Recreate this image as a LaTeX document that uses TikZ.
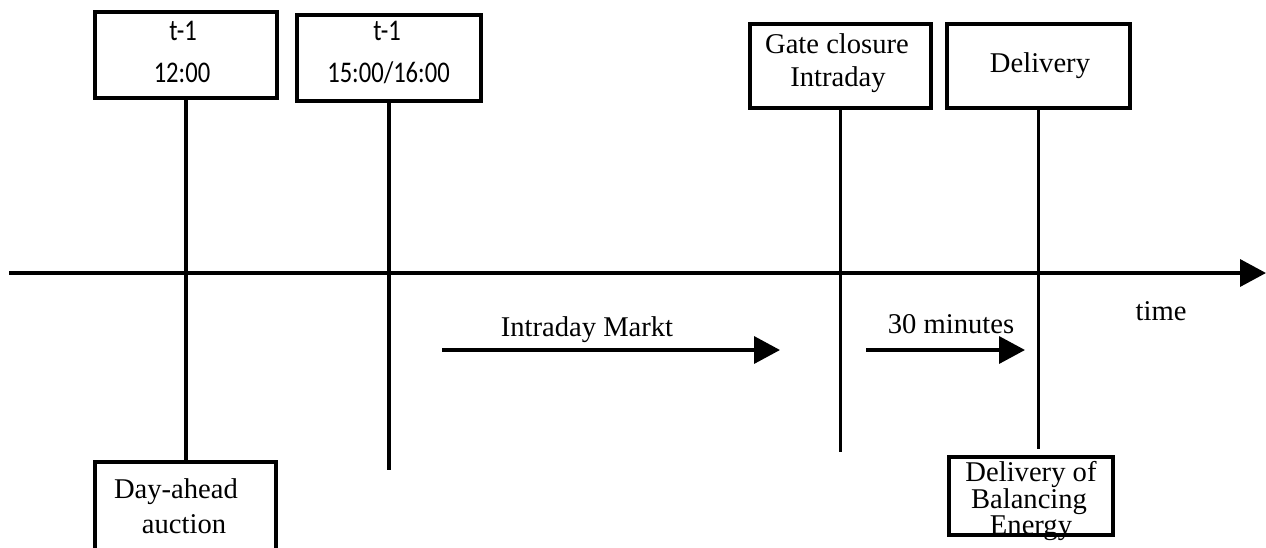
\documentclass[tikz,border=0pt]{standalone}
\usepackage{fontspec}
\setmainfont{Liberation Serif}
\newfontfamily\nsans[FakeStretch=0.82]{Carlito}
\usetikzlibrary{arrows.meta}
\begin{document}
\begin{tikzpicture}[x=1pt,y=-1pt,
  box/.style={draw=black, line width=3.6pt, inner sep=0pt, fill=none},
  conn/.style={draw=black, line width=3.6pt},
  arr/.style={draw=black, line width=3.6pt, -{Triangle[length=26pt,width=27pt]}},
  txt/.style={anchor=base, inner sep=0pt, font=\fontsize{28.6}{34}\selectfont},
  stxt/.style={anchor=base, inner sep=0pt, font=\nsans\fontsize{30}{36}\selectfont}]
\clip (0,0) rectangle (1266,547);
\fill[white] (0,0) rectangle (1266,547);
% top boxes
\node[box, minimum width=182pt, minimum height=86pt] (b1) at (186,55) {};
\node[box, minimum width=184pt, minimum height=86pt] (b2) at (389,58) {};
\node[box, minimum width=181pt, minimum height=84pt] (b3) at (840.5,66) {};
\node[box, minimum width=183pt, minimum height=84pt] (b4) at (1038.5,66) {};
% bottom boxes
\node[box, minimum width=181pt, minimum height=100pt] (bb1) at (185.5,512) {};
\node[box, minimum width=164pt, minimum height=78pt] (bb2) at (1031,496) {};
% texts
\node[stxt] (t1a) at (183,40) {t-1};
\node[stxt] (t1b) at (182,82) {12:00};
\node[stxt] (t2a) at (387,40) {t-1};
\node[stxt] (t2b) at (388.5,82) {15:00/16:00};
\node[txt] (t3a) at (837,53) {Gate closure};
\node[txt] (t3b) at (838,86) {Intraday};
\node[txt] (t4) at (1040,72) {Delivery};
\node[txt] (tb1a) at (176,498) {Day-ahead};
\node[txt] (tb1b) at (184,533) {auction};
\node[txt] (tb2a) at (1031,481) {Delivery of};
\node[txt] (tb2b) at (1029,508) {Balancing};
\node[txt] (tb2c) at (1031,534) {Energy};
\node[txt] (lim) at (587,336) {Intraday Markt};
\node[txt] (l30) at (951,333) {30 minutes};
\node[txt] (ltime) at (1161,320) {time};
% vertical connectors
\coordinate (e2) at (389,470);
\coordinate (e3) at (839,452);
\coordinate (e4) at (1037,449);
\draw[conn] (b1.south) -- (b1.south |- bb1.north);
\draw[conn] (b2.south) -- (e2);
\draw[conn] (b3.south) -- (b3.south |- e3);
\draw[conn] (b4.south) -- (b4.south |- e4);
% time axis
\coordinate (ax0) at (9,273);
\coordinate (ax1) at (1266,273);
\draw[arr] (ax0) -- (ax1);
% market arrows
\coordinate (ia0) at (442,350);
\coordinate (ia1) at (780,350);
\draw[arr] (ia0) -- (ia1);
\coordinate (ma0) at (866,350);
\coordinate (ma1) at (1025,350);
\draw[arr] (ma0) -- (ma1);
\end{tikzpicture}
\end{document}
